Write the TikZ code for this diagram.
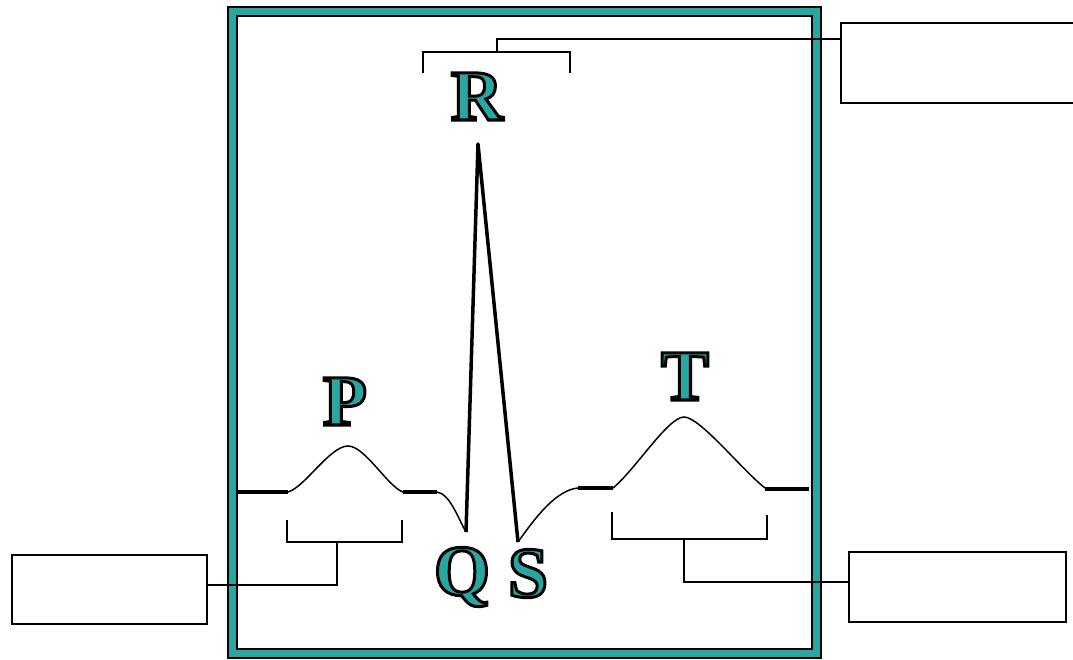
\documentclass[tikz,border=0pt]{standalone}
\usepackage{fontspec}
\setmainfont{Liberation Serif}
\usetikzlibrary{positioning,calc}
\definecolor{ecgteal}{RGB}{42,166,160}
\newcommand{\ecgletter}[1]{\special{pdf:code 2 Tr 3 w 0 0 0 RG}#1\special{pdf:code 0 Tr 1 w}}
\tikzset{
    wavelbl/.style={font=\fontsize{72}{72}\selectfont\bfseries, text=ecgteal, inner sep=0pt, anchor=base},
    answerbox/.style={draw, line width=2pt, inner sep=0pt},
    bracket/.style={line width=2pt},
    thinwave/.style={line width=1.5pt},
    thickwave/.style={line width=3.5pt, line join=round}
}

\begin{document}
\begin{tikzpicture}[x=1pt, y=-1pt]
    \useasboundingbox (0,0) rectangle (1073,660);
    % frame
    \draw[line width=11pt] (232.5,11.5) rectangle (816.5,653.5);
    \draw[line width=7pt, ecgteal] (232.5,11.5) rectangle (816.5,653.5);

    % wave labels
    \node[wavelbl] (p) at (345,425) {\ecgletter{P}};
    \node[wavelbl] (r) at (477,120) {\ecgletter{R}};
    \node[wavelbl] (t) at (685,400) {\ecgletter{T}};
    \node[wavelbl] (q) at (462,595) {\ecgletter{Q}};
    \node[wavelbl] (s) at (528,597) {\ecgletter{S}};

    % answer boxes
    \node[answerbox, minimum width=239pt, minimum height=80pt] (rbox) at (960.5,63) {};
    \node[answerbox, minimum width=195pt, minimum height=69pt] (pbox) at (109.5,589.5) {};
    \node[answerbox, minimum width=217pt, minimum height=70pt] (tbox) at (957.5,587) {};

    % brackets
    \coordinate (rjoin) at (497,39);
    \coordinate (pjoin) at (337,585);
    \coordinate (tjoin) at (684,582);
    \draw[bracket] (423,73) -- (423,52) -- (570,52) -- (570,73);
    \draw[bracket] (497,52) -- (rjoin) -- (rjoin -| rbox.west);
    \draw[bracket] (287,520) -- (287,542) -- (402,542) -- (402,520);
    \draw[bracket] (337,542) -- (pjoin) -- (pjoin -| pbox.east);
    \draw[bracket] (612,512) -- (612,539) -- (767,539) -- (767,515);
    \draw[bracket] (684,539) -- (tjoin) -- (tjoin -| tbox.west);

    % ecg trace
    \draw[thickwave] (238,492) -- (288,492);
    \draw[thinwave] (288,492) .. controls (305,487) and (330,446) .. (348,446)
        .. controls (365,446) and (388,487) .. (403,492);
    \draw[thickwave] (403,492) -- (437,492);
    \draw[thinwave] (437,492) .. controls (450,494) and (458,518) .. (466,532);
    \draw[thickwave] (466,532) -- (478,144) -- (518,542);
    \draw[thinwave] (518,542) .. controls (535,518) and (556,490) .. (578,488);
    \draw[thickwave] (578,488) -- (613,488);
    \draw[thinwave] (613,488) .. controls (635,470) and (668,417) .. (684,417)
        .. controls (700,417) and (742,470) .. (765,488);
    \draw[thickwave] (765,489) -- (809,489);
\end{tikzpicture}
\end{document}
